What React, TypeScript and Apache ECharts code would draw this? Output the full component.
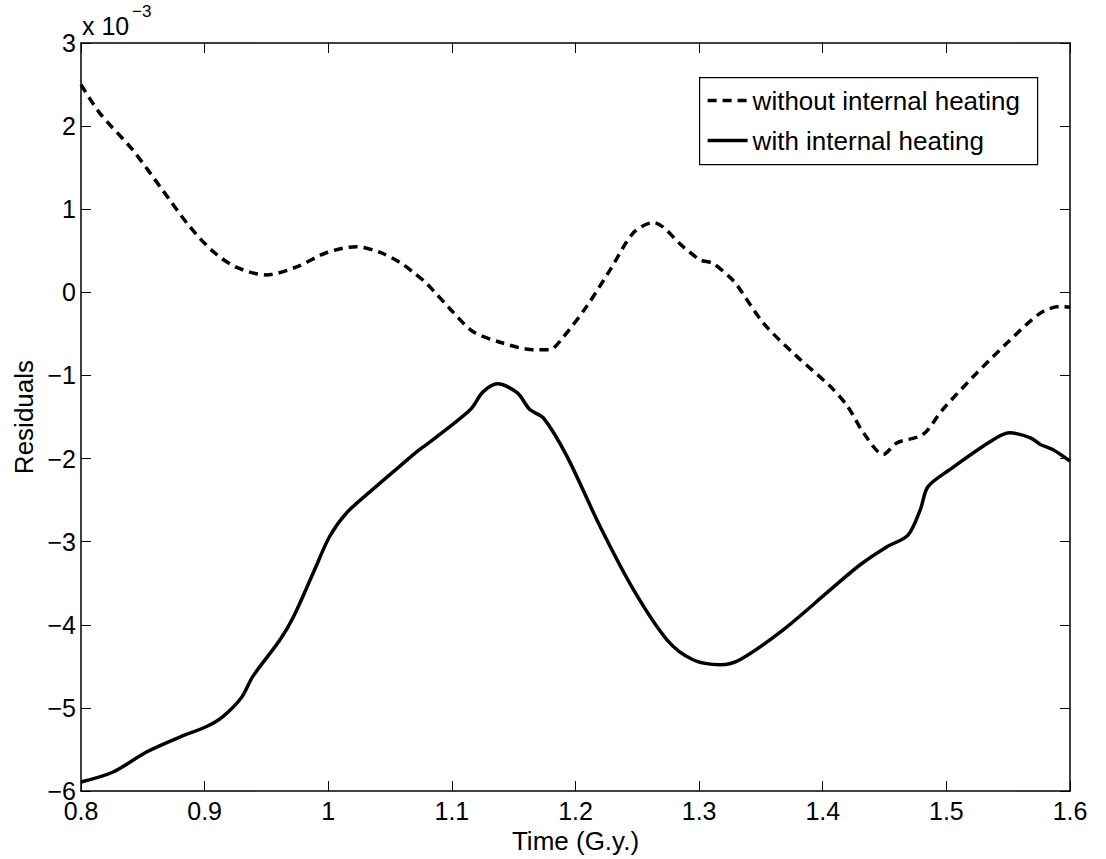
import React, { useEffect, useRef } from "react";
import * as echarts from "echarts";

// Residuals in units of 1e-3
const dashedX = [0.800, 0.815, 0.842, 0.866, 0.888, 0.907, 0.926, 0.950, 0.975, 0.999, 1.023, 1.042, 1.058, 1.069, 1.080, 1.098, 1.117, 1.139, 1.166, 1.179, 1.190, 1.209, 1.228, 1.247, 1.263, 1.287, 1.301, 1.311, 1.325, 1.331, 1.352, 1.379, 1.406, 1.420, 1.433, 1.449, 1.460, 1.481, 1.497, 1.522, 1.549, 1.576, 1.592, 1.600];
const dashedY = [2.50, 2.16, 1.71, 1.23, 0.79, 0.49, 0.30, 0.21, 0.31, 0.48, 0.55, 0.48, 0.36, 0.24, 0.10, -0.19, -0.47, -0.60, -0.69, -0.69, -0.54, -0.17, 0.27, 0.72, 0.84, 0.55, 0.39, 0.35, 0.18, 0.08, -0.37, -0.77, -1.13, -1.37, -1.69, -1.95, -1.81, -1.71, -1.41, -1.01, -0.61, -0.25, -0.17, -0.18];

const solidX = [0.800, 0.826, 0.853, 0.880, 0.902, 0.915, 0.930, 0.939, 0.961, 0.972, 0.988, 1.001, 1.015, 1.036, 1.058, 1.074, 1.085, 1.115, 1.125, 1.137, 1.153, 1.163, 1.174, 1.193, 1.220, 1.247, 1.274, 1.295, 1.317, 1.333, 1.368, 1.406, 1.430, 1.452, 1.469, 1.479, 1.485, 1.503, 1.535, 1.551, 1.568, 1.576, 1.586, 1.600];
const solidY = [-5.89, -5.77, -5.53, -5.35, -5.22, -5.10, -4.87, -4.62, -4.18, -3.90, -3.37, -2.94, -2.65, -2.37, -2.09, -1.89, -1.77, -1.41, -1.20, -1.10, -1.21, -1.41, -1.51, -1.97, -2.82, -3.58, -4.18, -4.42, -4.48, -4.42, -4.06, -3.58, -3.28, -3.06, -2.92, -2.61, -2.34, -2.13, -1.80, -1.69, -1.75, -1.83, -1.89, -2.03];

const seriesNames = ["without internal heating", "with internal heating"];
const xLabel = "Time (G.y.)";
const yLabel = "Residuals";

const FONT = "'Liberation Sans', Arial, Helvetica, sans-serif";
const DASH = [9, 6];

export default function App() {
  const ref = useRef<HTMLDivElement>(null);
  useEffect(() => {
    if (!ref.current) return;
    const chart = echarts.init(ref.current, undefined, { renderer: "svg" });
    const axisLine = { onZero: false, lineStyle: { color: "#000", width: 1.5 } };
    const tick = { inside: true, length: 10, lineStyle: { color: "#000", width: 1 } };
    const xFmt = (v: number) => String(parseFloat(v.toFixed(1)));
    const yFmt = (v: number) => {
      const n = Math.round(v);
      return n < 0 ? "\u2212" + Math.abs(n) : String(n);
    };
    const option: any = {
      animation: false,
      backgroundColor: "#fff",
      grid: { left: 81, top: 43, right: 36, bottom: 67 },
      xAxis: [
        {
          type: "value", min: 0.8, max: 1.6, interval: 0.1, position: "bottom",
          axisLine, axisTick: tick, splitLine: { show: false },
          axisLabel: { formatter: xFmt, fontSize: 25, color: "#000", margin: 7, fontFamily: FONT },
          name: xLabel, nameLocation: "middle", nameGap: 31,
          nameTextStyle: { fontSize: 26, color: "#000", fontFamily: FONT },
        },
        {
          type: "value", min: 0.8, max: 1.6, interval: 0.1, position: "top",
          axisLine, axisTick: tick, splitLine: { show: false }, axisLabel: { show: false },
        },
      ],
      yAxis: [
        {
          type: "value", min: -6, max: 3, interval: 1, position: "left",
          axisLine, axisTick: tick, splitLine: { show: false },
          axisLabel: { formatter: yFmt, fontSize: 25, color: "#000", margin: 5, fontFamily: FONT },
          name: yLabel, nameLocation: "middle", nameGap: 40,
          nameTextStyle: { fontSize: 26, color: "#000", fontFamily: FONT },
        },
        {
          type: "value", min: -6, max: 3, interval: 1, position: "right",
          axisLine, axisTick: tick, splitLine: { show: false }, axisLabel: { show: false },
        },
      ],
      graphic: [
        { type: "text", left: 82, top: 13, style: { text: "x 10", fontSize: 25, fill: "#000", fontFamily: FONT } },
        { type: "text", left: 132, top: 3, style: { text: "\u22123", fontSize: 17, fill: "#000", fontFamily: FONT } },
        {
          type: "group", left: 699, top: 77, z: 100,
          children: [
            { type: "rect", shape: { x: 0, y: 0, width: 338, height: 87 }, style: { fill: "#fff", stroke: "#000", lineWidth: 1.2 } },
            { type: "line", shape: { x1: 8, y1: 23, x2: 48, y2: 23 }, style: { stroke: "#000", lineWidth: 3.5, lineDash: DASH } },
            { type: "text", x: 53, y: 23, style: { text: seriesNames[0], fontSize: 26, fill: "#000", fontFamily: FONT, verticalAlign: "middle" } },
            { type: "line", shape: { x1: 8, y1: 63, x2: 48, y2: 63 }, style: { stroke: "#000", lineWidth: 3.5 } },
            { type: "text", x: 53, y: 63, style: { text: seriesNames[1], fontSize: 26, fill: "#000", fontFamily: FONT, verticalAlign: "middle" } },
          ],
        },
      ],
      series: [
        {
          name: seriesNames[0], type: "line", symbol: "none", smooth: 0.3,
          data: dashedX.map((x, i) => [x, dashedY[i]]),
          lineStyle: { color: "#000", width: 3.5, type: DASH },
          itemStyle: { color: "#000" },
        },
        {
          name: seriesNames[1], type: "line", symbol: "none", smooth: 0.3,
          data: solidX.map((x, i) => [x, solidY[i]]),
          lineStyle: { color: "#000", width: 3.5, type: "solid" },
          itemStyle: { color: "#000" },
        },
      ],
    };
    chart.setOption(option);
    return () => chart.dispose();
  }, []);
  return (
    <div
      ref={ref}
      style={{ position: "absolute", left: 0, top: 0, width: 1106, height: 859, background: "#fff" }}
    />
  );
}
